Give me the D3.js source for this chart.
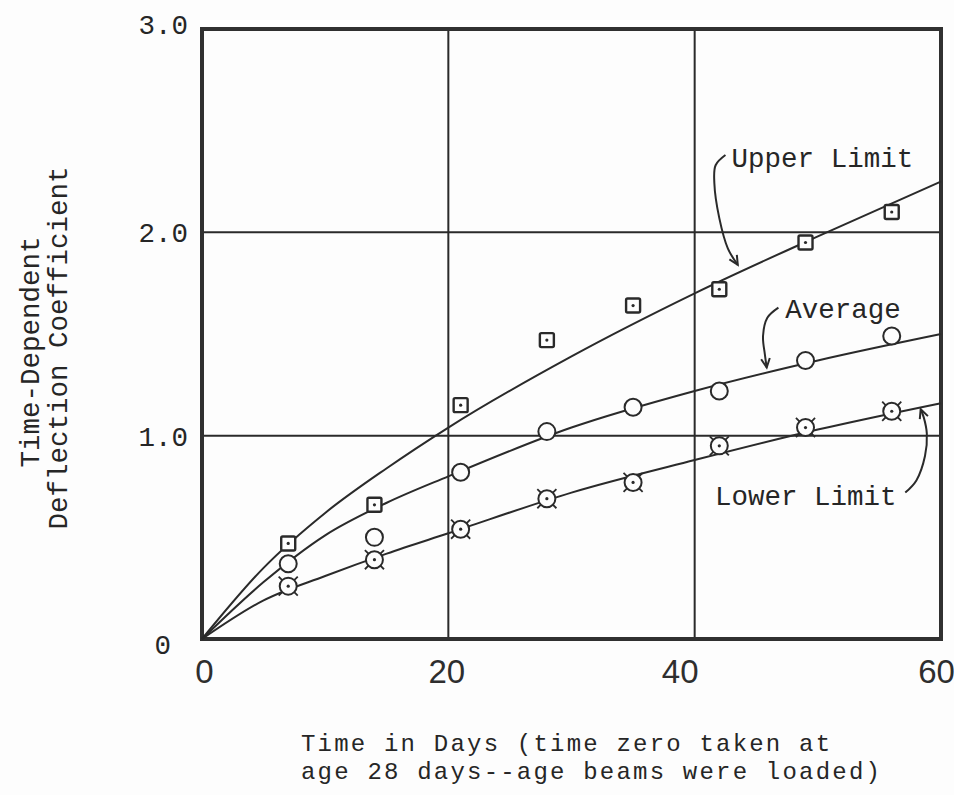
<!DOCTYPE html>
<html>
<head>
<meta charset="utf-8">
<script src="https://cdn.jsdelivr.net/npm/d3@7"></script>
<style>
  body { margin: 0; background: #fdfdfd; }
  svg { display: block; }
  .tw { font-family: "Liberation Mono", "DejaVu Sans Mono", monospace; font-size: 27.5px; fill: #262626; }
  .tw-small { font-family: "Liberation Mono", "DejaVu Sans Mono", monospace; font-size: 24px; letter-spacing: 2.2px; fill: #262626; }
  .hand { font-family: "Liberation Sans", "DejaVu Sans", sans-serif; font-size: 33px; fill: #2e2e2e; }
</style>
</head>
<body>
<div id="chart"></div>
<script>
// Test days (days after loading)
const days = [7, 14, 21, 28, 35, 42, 49, 56];
const upperValues = [0.47, 0.66, 1.15, 1.47, 1.64, 1.72, 1.95, 2.10];
const averageValues = [0.37, 0.50, 0.82, 1.02, 1.14, 1.22, 1.37, 1.49];
const lowerValues = [0.26, 0.39, 0.54, 0.69, 0.77, 0.95, 1.04, 1.12];

// Faired curves
const curveDays = [0, 5, 10, 15, 20, 30, 40, 50, 60];
const upperCurve = [0, 0.35, 0.62, 0.84, 1.04, 1.39, 1.70, 1.98, 2.25];
const averageCurve = [0, 0.28, 0.51, 0.67, 0.80, 1.04, 1.22, 1.37, 1.50];
const lowerCurve = [0, 0.19, 0.31, 0.42, 0.52, 0.72, 0.88, 1.03, 1.16];

// Axes
const xTicks = [0, 20, 40, 60];
const xTickLabels = ['0', '20', '40', '60'];
const yTicks = [0, 1, 2, 3];
const yTickLabels = ['0', '1.0', '2.0', '3.0'];
const xGrid = [20, 40];
const yGrid = [1, 2];

// Annotation labels and their leader arrows (data units)
const labels = [
  { text: 'Upper Limit', at: [43.0, 2.32], arrow: [[42.5, 2.38], [41.7, 2.33], [41.6, 2.24], [42.0, 2.07], [42.7, 1.92], [43.5, 1.84]] },
  { text: 'Average', at: [47.35, 1.58], arrow: [[46.8, 1.63], [45.9, 1.58], [45.55, 1.49], [45.7, 1.40], [45.85, 1.335]] },
  { text: 'Lower Limit', at: [41.65, 0.66], arrow: [[57.1, 0.72], [58.0, 0.78], [58.7, 0.90], [58.85, 1.01], [58.6, 1.09], [58.35, 1.13]] }
];

const width = 954;
const height = 795;
const ink = '#2a2a2a';

const x = d3.scaleLinear().domain([0, 60]).range([202, 941]);
const y = d3.scaleLinear().domain([0, 3]).range([639, 29]);

const svg = d3.select('#chart')
  .append('svg')
  .attr('width', width)
  .attr('height', height);

svg.append('rect')
  .attr('width', width)
  .attr('height', height)
  .attr('fill', '#fdfdfd');

// Grid lines
svg.append('g')
  .selectAll('line')
  .data(xGrid)
  .join('line')
  .attr('x1', d => x(d)).attr('x2', d => x(d))
  .attr('y1', y(0)).attr('y2', y(3))
  .attr('stroke', ink)
  .attr('stroke-width', 2);

svg.append('g')
  .selectAll('line')
  .data(yGrid)
  .join('line')
  .attr('x1', x(0)).attr('x2', x(60))
  .attr('y1', d => y(d)).attr('y2', d => y(d))
  .attr('stroke', ink)
  .attr('stroke-width', 2);

// Frame
svg.append('rect')
  .attr('x', x(0))
  .attr('y', y(3))
  .attr('width', x(60) - x(0))
  .attr('height', y(0) - y(3))
  .attr('fill', 'none')
  .attr('stroke', '#303030')
  .attr('stroke-width', 4);

// X axis labels
const xAxis = svg.append('g')
  .attr('transform', `translate(0,${y(0)})`)
  .call(d3.axisBottom(x).tickValues(xTicks).tickFormat((d, i) => xTickLabels[i]).tickSize(0).tickPadding(21));
xAxis.select('.domain').remove();
const xShift = { 0: 2, 20: -2, 40: -15, 60: -5 };
xAxis.selectAll('text')
  .attr('class', 'hand')
  .attr('fill', null)
  .attr('dx', d => xShift[d]);

// Y axis labels
const yAxis = svg.append('g')
  .attr('transform', `translate(${x(0)},0)`)
  .call(d3.axisLeft(y).tickValues(yTicks).tickFormat((d, i) => yTickLabels[i]).tickSize(0).tickPadding(14));
yAxis.select('.domain').remove();
yAxis.selectAll('text')
  .attr('class', 'tw')
  .attr('fill', null)
  .attr('dx', d => d === 0 ? -17 : 0)
  .attr('dy', d => d === 3 ? '0.18em' : d === 0 ? '0.52em' : '0.34em');

// Axis titles
const yTitle = svg.append('g').attr('transform', 'rotate(-90)');
yTitle.append('text').attr('class', 'tw')
  .attr('x', -352).attr('y', 39).attr('text-anchor', 'middle')
  .text('Time-Dependent');
yTitle.append('text').attr('class', 'tw')
  .attr('x', -348).attr('y', 67).attr('text-anchor', 'middle')
  .text('Deflection Coefficient');

svg.append('text').attr('class', 'tw-small')
  .attr('x', 301).attr('y', 751)
  .text('Time in Days (time zero taken at');
svg.append('text').attr('class', 'tw-small')
  .attr('x', 301).attr('y', 779)
  .text('age 28 days--age beams were loaded)');

// Curves
const line = d3.line()
  .x(d => x(d[0]))
  .y(d => y(d[1]))
  .curve(d3.curveMonotoneX);

[upperCurve, averageCurve, lowerCurve].forEach(vals => {
  svg.append('path')
    .datum(curveDays.map((d, i) => [d, vals[i]]))
    .attr('d', line)
    .attr('fill', 'none')
    .attr('stroke', ink)
    .attr('stroke-width', 2);
});

// Markers
const marks = svg.append('g');

// upper: dotted squares
marks.selectAll('.sq')
  .data(days.map((d, i) => [d, upperValues[i]]))
  .join('g')
  .attr('transform', d => `translate(${x(d[0])},${y(d[1])})`)
  .each(function () {
    const g = d3.select(this);
    g.append('rect').attr('x', -7).attr('y', -7).attr('width', 14).attr('height', 14).attr('rx', 1.5)
      .attr('fill', '#fdfdfd').attr('stroke', ink).attr('stroke-width', 2.4);
    g.append('circle').attr('r', 1.6).attr('fill', ink);
  });

// average: open circles
marks.selectAll('.ci')
  .data(days.map((d, i) => [d, averageValues[i]]))
  .join('circle')
  .attr('cx', d => x(d[0]))
  .attr('cy', d => y(d[1]))
  .attr('r', 8.5)
  .attr('fill', '#fdfdfd')
  .attr('stroke', ink)
  .attr('stroke-width', 2);

// lower: circles with dot and corner ticks
marks.selectAll('.lo')
  .data(days.map((d, i) => [d, lowerValues[i]]))
  .join('g')
  .attr('transform', d => `translate(${x(d[0])},${y(d[1])})`)
  .each(function () {
    const g = d3.select(this);
    [45, 135, 225, 315].forEach(a => {
      const r = a * Math.PI / 180;
      g.append('line')
        .attr('x1', 6 * Math.cos(r)).attr('y1', 6 * Math.sin(r))
        .attr('x2', 13.5 * Math.cos(r)).attr('y2', 13.5 * Math.sin(r))
        .attr('stroke', ink).attr('stroke-width', 1.8);
    });
    g.append('circle').attr('r', 8.5).attr('fill', '#fdfdfd').attr('stroke', ink).attr('stroke-width', 2);
    g.append('circle').attr('r', 1.6).attr('fill', ink);
  });

// Annotations
const leader = d3.line()
  .x(d => x(d[0]))
  .y(d => y(d[1]))
  .curve(d3.curveCatmullRom);

labels.forEach(l => {
  svg.append('text').attr('class', 'tw')
    .attr('x', x(l.at[0])).attr('y', y(l.at[1]))
    .text(l.text);

  svg.append('path')
    .attr('d', leader(l.arrow))
    .attr('fill', 'none')
    .attr('stroke', ink)
    .attr('stroke-width', 2);

  // arrow head
  const tip = l.arrow[l.arrow.length - 1];
  const prev = l.arrow[l.arrow.length - 2];
  const tx = x(tip[0]), ty = y(tip[1]);
  const ang = Math.atan2(ty - y(prev[1]), tx - x(prev[0]));
  const len = 10, spread = 0.45;
  const p1 = [tx - len * Math.cos(ang - spread), ty - len * Math.sin(ang - spread)];
  const p2 = [tx - len * Math.cos(ang + spread), ty - len * Math.sin(ang + spread)];
  svg.append('path')
    .attr('d', `M${p1[0]},${p1[1]}L${tx},${ty}L${p2[0]},${p2[1]}`)
    .attr('fill', 'none')
    .attr('stroke', ink)
    .attr('stroke-width', 2);
});
</script>
</body>
</html>
